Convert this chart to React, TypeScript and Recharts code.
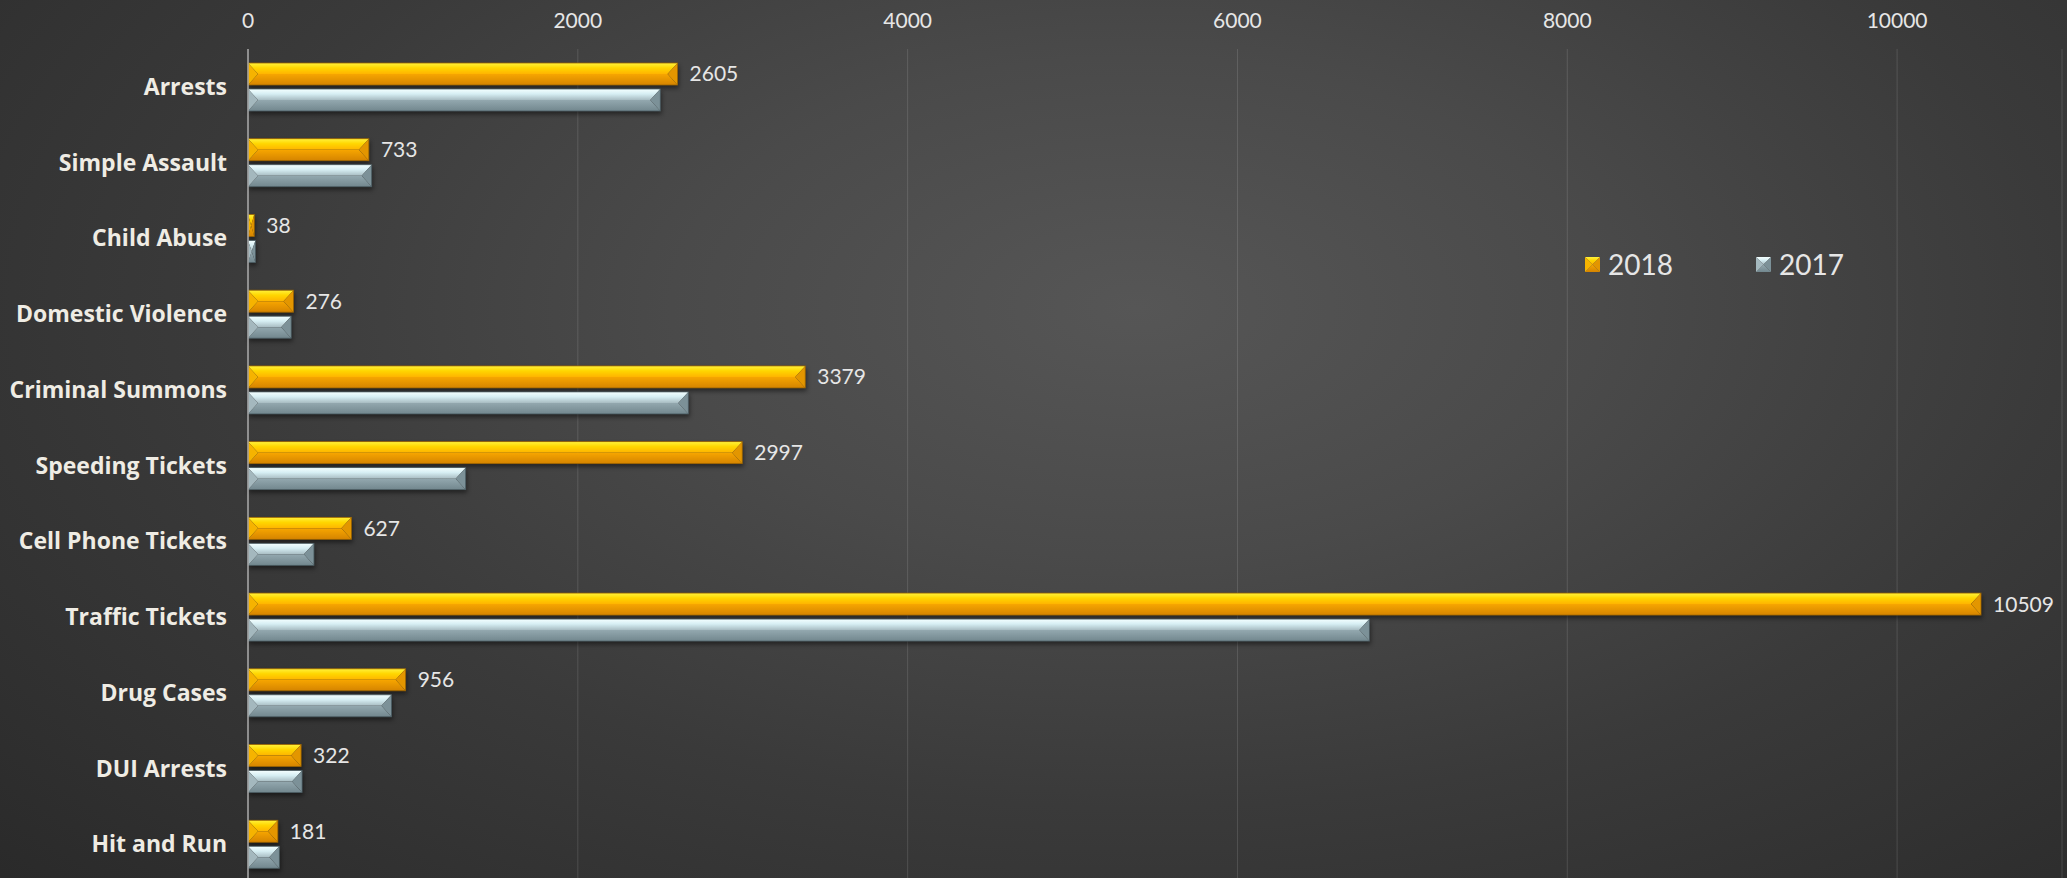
import { Bar, BarChart, CartesianGrid, LabelList, Legend, XAxis, YAxis } from 'recharts'

const categories = [
  'Arrests',
  'Simple Assault',
  'Child Abuse',
  'Domestic Violence',
  'Criminal Summons',
  'Speeding Tickets',
  'Cell Phone Tickets',
  'Traffic Tickets',
  'Drug Cases',
  'DUI Arrests',
  'Hit and Run',
]
const values2018 = [2605, 733, 38, 276, 3379, 2997, 627, 10509, 956, 322, 181]
const values2017 = [2500, 750, 45, 262, 2670, 1320, 400, 6800, 870, 328, 190]
const xTicks = [0, 2000, 4000, 6000, 8000, 10000]

const data = categories.map((name, i) => ({ name, y2018: values2018[i], y2017: values2017[i] }))

const FONT = 'Lato, "Open Sans", sans-serif'
const LABEL_FONT = '"Open Sans", Lato, sans-serif'

type Palette = { id: string; side1: string; side2: string; stroke: string }
const orange: Palette = { id: 'or', side1: '#f6b300', side2: '#e39600', stroke: '#9c6400' }
const gray: Palette = { id: 'gr', side1: '#a4b8be', side2: '#7c9198', stroke: '#4c5e64' }

function bevelShape(p: Palette) {
  return (props: any) => {
    const { x, y, width: w, height: h } = props
    if (!w || w <= 0) return <g />
    const b = Math.min(10, w / 2)
    const m = y + h / 2
    return (
      <g style={{ filter: 'drop-shadow(1px 3px 2px rgba(0,0,0,0.45))' }}>
        <polygon points={`${x},${y} ${x + w},${y} ${x + w - b},${m} ${x + b},${m}`} fill={`url(#${p.id}Top)`} />
        <polygon points={`${x + b},${m} ${x + w - b},${m} ${x + w},${y + h} ${x},${y + h}`} fill={`url(#${p.id}Bot)`} />
        <polygon points={`${x},${y} ${x + b},${m} ${x},${y + h}`} fill={p.side1} />
        <polygon points={`${x + w},${y} ${x + w - b},${m} ${x + w},${y + h}`} fill={p.side2} />
        <rect x={x} y={y} width={w} height={h} fill="none" stroke={p.stroke} strokeWidth={0.8} />
      </g>
    )
  }
}

function Swatch({ p }: { p: Palette }) {
  const s = 15
  const c = s / 2
  return (
    <svg width={s} height={s} style={{ display: 'block' }}>
      <polygon points={`0,0 ${s},0 ${c},${c}`} fill={`url(#${p.id}Top)`} />
      <polygon points={`0,${s} ${s},${s} ${c},${c}`} fill={`url(#${p.id}Bot)`} />
      <polygon points={`0,0 ${c},${c} 0,${s}`} fill={p.side1} />
      <polygon points={`${s},0 ${c},${c} ${s},${s}`} fill={p.side2} />
    </svg>
  )
}

function LegendBox() {
  const items = [
    { label: '2018', p: orange },
    { label: '2017', p: gray },
  ]
  return (
    <div style={{ display: 'flex', alignItems: 'center', fontFamily: FONT }}>
      {items.map((it) => (
        <div key={it.label} style={{ display: 'flex', alignItems: 'center', width: 171 }}>
          <Swatch p={it.p} />
          <span style={{ color: '#e6e6e6', fontSize: 28, marginLeft: 8, lineHeight: 1 }}>{it.label}</span>
        </div>
      ))}
    </div>
  )
}

export default function App() {
  return (
    <div
      style={{
        position: 'absolute',
        left: 0,
        top: 0,
        width: 2067,
        height: 878,
        overflow: 'hidden',
        background:
          'radial-gradient(ellipse 75% 95% at 55% 35%, #565656 0%, #4a4a4a 30%, #3a3a3a 60%, #2a2a2a 100%)',
      }}
    >
      <svg width={0} height={0} style={{ position: 'absolute' }}>
        <defs>
          <linearGradient id="orTop" x1="0" y1="0" x2="0" y2="1">
            <stop offset="0" stopColor="#fff23c" />
            <stop offset="0.45" stopColor="#ffd600" />
            <stop offset="1" stopColor="#ffb400" />
          </linearGradient>
          <linearGradient id="orBot" x1="0" y1="0" x2="0" y2="1">
            <stop offset="0" stopColor="#f7a600" />
            <stop offset="1" stopColor="#d58400" />
          </linearGradient>
          <linearGradient id="grTop" x1="0" y1="0" x2="0" y2="1">
            <stop offset="0" stopColor="#f4ffff" />
            <stop offset="0.45" stopColor="#d6eef3" />
            <stop offset="1" stopColor="#a8bcc2" />
          </linearGradient>
          <linearGradient id="grBot" x1="0" y1="0" x2="0" y2="1">
            <stop offset="0" stopColor="#93a8af" />
            <stop offset="1" stopColor="#72878e" />
          </linearGradient>
        </defs>
      </svg>
      <BarChart
        width={2067}
        height={882}
        data={data}
        layout="vertical"
        margin={{ top: 0, right: 5, left: 0, bottom: 0 }}
        barCategoryGap="17%"
        barGap={4}
        barSize={22}
      >
        <CartesianGrid horizontal={false} stroke="rgba(255,255,255,0.13)" />
        <XAxis
          type="number"
          orientation="top"
          domain={[0, 11000]}
          ticks={xTicks}
          height={49}
          axisLine={false}
          tickLine={false}
          tickMargin={15}
          tick={{ fill: '#e6e6e6', fontSize: 21, fontFamily: FONT }}
        />
        <YAxis
          type="category"
          dataKey="name"
          width={248}
          axisLine={{ stroke: '#a9a9a9', strokeWidth: 1.5 }}
          tickLine={false}
          tickMargin={15}
          tick={{ fill: '#efece4', fontSize: 23, fontWeight: 700, fontFamily: LABEL_FONT }}
        />
        <Legend
          layout="horizontal"
          verticalAlign="middle"
          content={() => <LegendBox />}
          wrapperStyle={{ left: 1585, top: 250, width: 400 }}
        />
        <Bar dataKey="y2018" name="2018" shape={bevelShape(orange)} isAnimationActive={false}>
          <LabelList
            dataKey="y2018"
            position="right"
            offset={12}
            fill="#e6e6e6"
            fontSize={21}
            fontFamily={FONT}
          />
        </Bar>
        <Bar dataKey="y2017" name="2017" shape={bevelShape(gray)} isAnimationActive={false} />
      </BarChart>
    </div>
  )
}
